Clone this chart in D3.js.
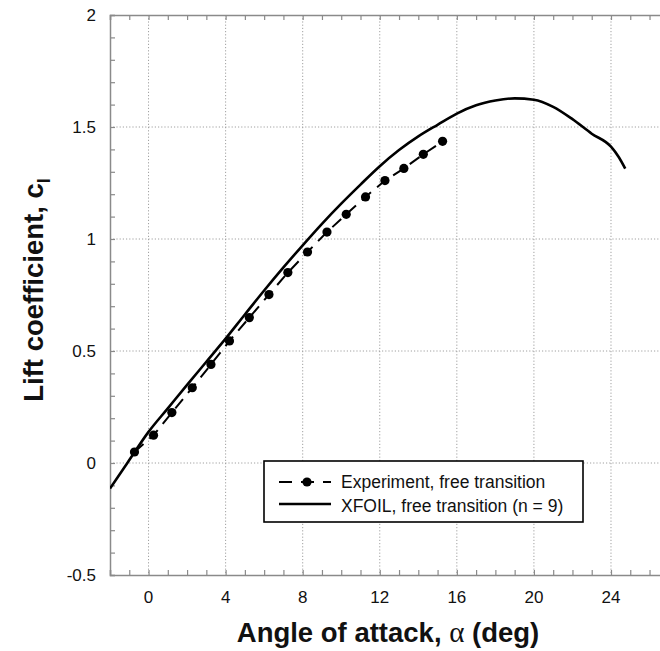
<!DOCTYPE html>
<html>
<head>
<meta charset="utf-8">
<script src="https://cdn.jsdelivr.net/npm/d3@7"></script>
<style>
  body { margin: 0; background: #fff; }
  text { font-family: "Liberation Sans", Arial, sans-serif; fill: #111; }
</style>
</head>
<body>
<script>
'use strict';

// experiment, free transition
var expAlpha = [-0.73, 0.26, 1.21, 2.27, 3.24, 4.2, 5.23, 6.25, 7.23, 8.25, 9.26, 10.26, 11.26, 12.27, 13.25, 14.26, 15.26];
var expCl = [0.049, 0.124, 0.225, 0.336, 0.44, 0.545, 0.649, 0.752, 0.85, 0.942, 1.031, 1.11, 1.188, 1.261, 1.315, 1.378, 1.436];

// XFOIL, free transition (n = 9)
var xfAlpha = [-2, -1.1, 0, 1, 2, 3, 4, 5, 6, 7, 8, 9, 10, 11, 12, 13, 14, 15, 16, 17, 18, 19, 20, 21, 22, 23, 24, 24.4, 24.74];
var xfCl = [-0.114, 0, 0.139, 0.244, 0.349, 0.452, 0.555, 0.663, 0.77, 0.873, 0.972, 1.068, 1.158, 1.243, 1.325, 1.397, 1.458, 1.51, 1.56, 1.597, 1.618, 1.628, 1.622, 1.59, 1.535, 1.47, 1.412, 1.366, 1.314];

var xTicks = [0, 4, 8, 12, 16, 20, 24];
var yTicks = [-0.5, 0, 0.5, 1, 1.5, 2];
var legendLabels = ["Experiment, free transition", "XFOIL, free transition (n = 9)"];

var W = 660, H = 651;
var margin = {top: 15, right: 0, bottom: 76, left: 110};

var x = d3.scaleLinear().domain([-2, 27]).range([margin.left, 668.8]);
var y = d3.scaleLinear().domain([-0.5, 2]).range([H - margin.bottom, margin.top]);

var svg = d3.select("body").append("svg")
    .attr("width", W)
    .attr("height", H);

svg.append("defs").append("clipPath").attr("id", "plotclip")
  .append("rect")
    .attr("x", x(-2)).attr("y", y(2))
    .attr("width", x(27) - x(-2)).attr("height", y(-0.5) - y(2));

// grid
var grid = svg.append("g").attr("class", "grid");
grid.selectAll(".vg").data(xTicks.concat([28]))
  .enter().append("line")
    .attr("x1", function(d) { return x(d); })
    .attr("x2", function(d) { return x(d); })
    .attr("y1", y(2)).attr("y2", y(-0.5))
    .attr("stroke", "#a0a0a0").attr("stroke-width", 1).attr("stroke-dasharray", "1.2,2");
grid.selectAll(".hg").data(yTicks.slice(1, -1))
  .enter().append("line")
    .attr("y1", function(d) { return y(d); })
    .attr("y2", function(d) { return y(d); })
    .attr("x1", x(-2)).attr("x2", x(27))
    .attr("stroke", "#a0a0a0").attr("stroke-width", 1).attr("stroke-dasharray", "1.2,2");

// axes, ticks pointing inwards
var xMinor = d3.range(-2, 28, 1);
var yMinor = d3.range(-0.5, 2.001, 0.1);

var gx = svg.append("g").attr("transform", "translate(0," + y(-0.5) + ")")
    .call(d3.axisTop(x).tickValues(xMinor).tickSize(5).tickFormat(""));
var gxTop = svg.append("g").attr("transform", "translate(0," + y(2) + ")")
    .call(d3.axisBottom(x).tickValues(xMinor).tickSize(5).tickFormat(""));
var gy = svg.append("g").attr("transform", "translate(" + x(-2) + ",0)")
    .call(d3.axisRight(y).tickValues(yMinor).tickSize(5).tickFormat(""));

[gx, gxTop, gy].forEach(function(g) {
    g.selectAll("path").attr("stroke", "#8a8a8a").attr("stroke-width", 1.5);
    g.selectAll("line").attr("stroke", "#8a8a8a").attr("stroke-width", 1.2);
});

// tick labels
svg.append("g").selectAll("text").data(xTicks)
  .enter().append("text")
    .attr("x", function(d) { return x(d); })
    .attr("y", y(-0.5) + 28)
    .attr("text-anchor", "middle")
    .style("font-size", "17px")
    .text(function(d) { return d; });

svg.append("g").selectAll("text").data(yTicks)
  .enter().append("text")
    .attr("x", x(-2) - 14)
    .attr("y", function(d) { return y(d) + 6; })
    .attr("text-anchor", "end")
    .style("font-size", "17px")
    .text(function(d) { return d; });

// axis titles
var xt = svg.append("text")
    .attr("x", 388).attr("y", 642)
    .attr("text-anchor", "middle")
    .style("font-size", "27.5px").style("font-weight", "bold");
xt.append("tspan").text("Angle of attack, ");
xt.append("tspan").style("font-family", "'Liberation Serif', 'Times New Roman', serif")
    .style("font-weight", "normal").style("font-size", "29px").text("\u03b1");
xt.append("tspan").text(" (deg)");

var yt = svg.append("text")
    .attr("transform", "translate(43,290) rotate(-90)")
    .attr("text-anchor", "middle")
    .style("font-size", "27.5px").style("font-weight", "bold");
yt.append("tspan").text("Lift coefficient, c");
yt.append("tspan").attr("dy", 7).style("font-size", "18px").text("l");

// curves
var xfData = xfAlpha.map(function(a, i) { return [a, xfCl[i]]; });
var expData = expAlpha.map(function(a, i) { return [a, expCl[i]]; });

var line = d3.line()
    .x(function(d) { return x(d[0]); })
    .y(function(d) { return y(d[1]); })
    .curve(d3.curveMonotoneX);

svg.append("path")
    .datum(xfData)
    .attr("clip-path", "url(#plotclip)")
    .attr("fill", "none")
    .attr("stroke", "#000")
    .attr("stroke-width", 2.6)
    .attr("d", line);

svg.append("path")
    .datum(expData)
    .attr("fill", "none")
    .attr("stroke", "#000")
    .attr("stroke-width", 2)
    .attr("stroke-dasharray", "12,8")
    .attr("d", d3.line().x(function(d) { return x(d[0]); }).y(function(d) { return y(d[1]); }));

svg.append("g").selectAll("circle").data(expData)
  .enter().append("circle")
    .attr("cx", function(d) { return x(d[0]); })
    .attr("cy", function(d) { return y(d[1]); })
    .attr("r", 4.6)
    .attr("fill", "#000");

// legend
var lg = svg.append("g");
lg.append("rect")
    .attr("x", 264).attr("y", 461)
    .attr("width", 319).attr("height", 61)
    .attr("fill", "#fff").attr("stroke", "#000").attr("stroke-width", 1.6);

lg.append("line")
    .attr("x1", 279).attr("x2", 331).attr("y1", 482).attr("y2", 482)
    .attr("stroke", "#000").attr("stroke-width", 2).attr("stroke-dasharray", "13,9");
lg.append("circle").attr("cx", 307).attr("cy", 482).attr("r", 4.6).attr("fill", "#000");
lg.append("line")
    .attr("x1", 279).attr("x2", 331).attr("y1", 504).attr("y2", 504)
    .attr("stroke", "#000").attr("stroke-width", 2.6);

lg.selectAll(".lt").data(legendLabels)
  .enter().append("text")
    .attr("x", 341)
    .attr("y", function(d, i) { return 488 + i * 24; })
    .style("font-size", "17.5px")
    .text(function(d) { return d; });
</script>
</body>
</html>
